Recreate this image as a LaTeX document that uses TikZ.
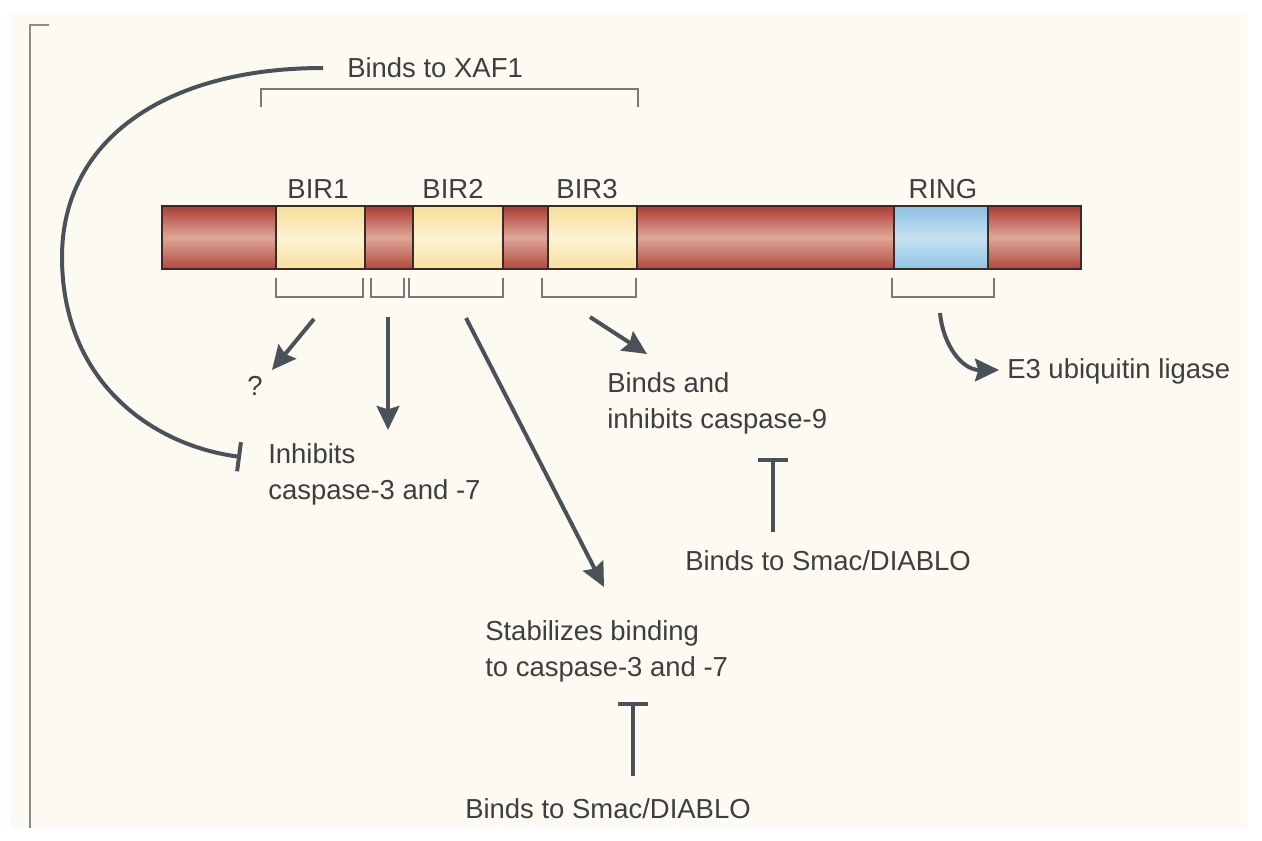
\documentclass[tikz,border=0pt]{standalone}
\usepackage{fontspec}
\setmainfont{Liberation Sans}
\usetikzlibrary{arrows.meta}
\definecolor{cream}{RGB}{253,250,242}
\definecolor{txt}{RGB}{62,62,64}
\definecolor{arr}{RGB}{75,81,89}
\definecolor{brk}{RGB}{120,120,120}
\definecolor{frm}{RGB}{140,140,140}
\definecolor{edge}{RGB}{60,42,40}
\definecolor{redT}{RGB}{172,60,52}
\definecolor{redM}{RGB}{222,168,152}
\definecolor{redB}{RGB}{178,72,62}
\definecolor{yelT}{RGB}{246,222,150}
\definecolor{yelM}{RGB}{252,242,212}
\definecolor{yelB}{RGB}{247,224,158}
\definecolor{bluT}{RGB}{140,192,226}
\definecolor{bluM}{RGB}{198,225,242}
\definecolor{bluB}{RGB}{145,196,228}
\tikzset{
  lab/.style={font=\fontsize{20.6pt}{27pt}\selectfont, text=txt, inner sep=0pt},
  redseg/.style={draw=edge, line width=1pt, top color=redT, bottom color=redB, middle color=redM},
  yelseg/.style={draw=edge, line width=1pt, top color=yelT, bottom color=yelB, middle color=yelM},
  bluseg/.style={draw=edge, line width=1pt, top color=bluT, bottom color=bluB, middle color=bluM},
  brack/.style={draw=brk, line width=1.1pt},
  act/.style={draw=arr, line width=3pt, -{Stealth[length=18pt,width=17pt,inset=2.5pt]}},
  inh/.style={draw=arr, line width=3pt, -{Bar[width=22pt]}},
}
\begin{document}
\begin{tikzpicture}[x=0.75pt,y=-0.75pt]
\useasboundingbox (0,840) rectangle (1262,0);
\fill[white] (0,840) rectangle (1262,0);
\fill[cream] (11,828) rectangle (1247,13);
% frame corner
\draw[frm, line width=1.5pt] (49,25) -- (30,25) -- (30,828);

% protein bar
\shade[redseg] (162,269) rectangle (276,206);
\shade[yelseg] (276,269) rectangle (365,206);
\shade[redseg] (365,269) rectangle (413,206);
\shade[yelseg] (413,269) rectangle (503,206);
\shade[redseg] (503,269) rectangle (548,206);
\shade[yelseg] (548,269) rectangle (637,206);
\shade[redseg] (637,269) rectangle (894,206);
\shade[bluseg] (894,269) rectangle (988,206);
\shade[redseg] (988,269) rectangle (1081,206);

% domain labels
\node[lab, anchor=base] (bir1) at (318,198) {BIR1};
\node[lab, anchor=base] (bir2) at (453,198) {BIR2};
\node[lab, anchor=base] (bir3) at (587,198) {BIR3};
\node[lab, anchor=base] (ring) at (943,198) {RING};

% brackets
\draw[brack] (261,107) -- (261,89) -- (638,89) -- (638,107);
\draw[brack] (276,278) -- (276,297) -- (363,297) -- (363,278);
\draw[brack] (371,278) -- (371,297) -- (404,297) -- (404,278);
\draw[brack] (409,278) -- (409,297) -- (503,297) -- (503,278);
\draw[brack] (542,278) -- (542,297) -- (636,297) -- (636,278);
\draw[brack] (892,278) -- (892,297) -- (994,297) -- (994,278);

% texts
\node[lab, anchor=base west] (xaf) at (347,77) {Binds to XAF1};
\node[lab, anchor=base] (q) at (255,395) {?};
\node[lab, anchor=north west, align=left] (inh37) at (268,443) {Inhibits\\caspase-3 and -7};
\node[lab, anchor=north west, align=left] (c9) at (607,372) {Binds and\\inhibits caspase-9};
\node[lab, anchor=base west] (e3) at (1007,378) {E3 ubiquitin ligase};
\node[lab, anchor=base] (smac1) at (828,570) {Binds to Smac/DIABLO};
\node[lab, anchor=north west, align=left] (stab) at (485,620) {Stabilizes binding\\to caspase-3 and -7};
\node[lab, anchor=base] (smac2) at (608,818) {Binds to Smac/DIABLO};

% connector end points
\coordinate (xs) at (323,68);
\coordinate (xm) at (62,257);
\coordinate (xe) at (241,457);
\coordinate (qa) at (314,319);
\coordinate (qb) at (272,370);
\coordinate (va) at (388,317);
\coordinate (vb) at (388,430);
\coordinate (la) at (466,318);
\coordinate (lb) at (604,587);
\coordinate (ba) at (590,317);
\coordinate (bb) at (647,354);
\coordinate (ea) at (940,313);
\coordinate (eb) at (999,370);
\coordinate (t1a) at (773,532);
\coordinate (t1b) at (773,458);
\coordinate (t2a) at (633,776);
\coordinate (t2b) at (633,702);

% connectors
\draw[inh] (xs) .. controls (165,68) and (62,140) .. (xm)
           .. controls (62,380) and (150,445) .. (xe);
\draw[act] (qa) -- (qb);
\draw[act] (va) -- (vb);
\draw[act] (la) -- (lb);
\draw[act] (ba) -- (bb);
\draw[act] (ea) .. controls (943,345) and (962,370) .. (eb);
\draw[inh] (t1a) -- (t1b);
\draw[inh] (t2a) -- (t2b);
\end{tikzpicture}
\end{document}
